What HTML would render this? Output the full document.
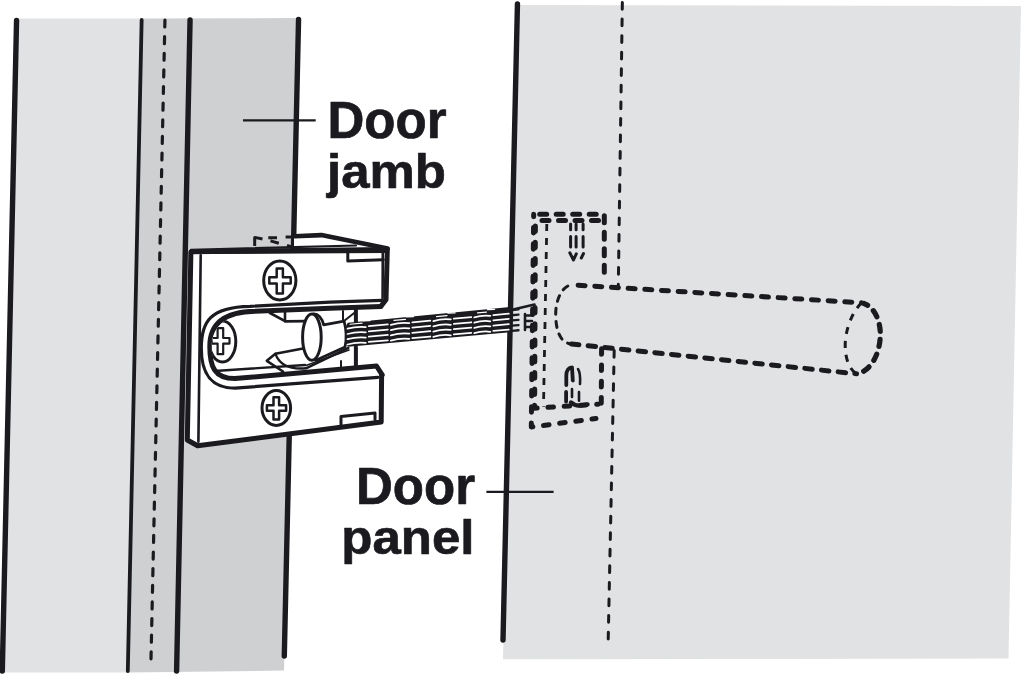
<!DOCTYPE html>
<html><head><meta charset="utf-8"><style>
html,body{margin:0;padding:0;background:#fff;width:1025px;height:675px;overflow:hidden}
svg{display:block}
text{font-family:"Liberation Sans",sans-serif;font-weight:bold;fill:#1b1a1f;stroke:#1b1a1f;stroke-width:0.7}
</style></head><body>
<svg width="1025" height="675" viewBox="0 0 1025 675">
<g stroke-linecap="round" stroke-linejoin="round">
<!-- fills -->
<polygon points="16.6,18.5 141.7,18.5 127.8,672.5 2.3,672.5" fill="#e1e2e4"/>
<polygon points="141.7,18.5 298.6,18 284,670.6 127.8,672.5" fill="#cfd0d2"/>
<polygon points="517.5,5 1021,6 1008.5,658.5 503,659.3" fill="#e1e2e4"/>

<!-- left lines -->
<g stroke="#1b1a1f" fill="none">
<line x1="16.55" y1="20.5" x2="2.3" y2="671" stroke-width="5.4"/>
<line x1="141.65" y1="20" x2="127.8" y2="671" stroke-width="3.8"/>
<line x1="164.94" y1="20" x2="151" y2="659" stroke-width="3.2" stroke-dasharray="7 9.63" stroke-linecap="round"/>
<line x1="190.05" y1="20" x2="176.6" y2="671" stroke-width="5.4"/>
<line x1="298.55" y1="19.5" x2="284.3" y2="656" stroke-width="5.4"/>
<line x1="517.45" y1="4" x2="503" y2="640" stroke-width="5.4"/>
<line x1="622.35" y1="2.5" x2="618.3" y2="286" stroke-width="3" stroke-dasharray="6.75 9.82" stroke-linecap="round"/>
<line x1="614.2" y1="350.5" x2="608.2" y2="640" stroke-width="3" stroke-dasharray="6.75 9.82" stroke-linecap="round"/>
<!-- leaders -->
<line x1="243" y1="120.3" x2="315.7" y2="120.3" stroke-width="2.2" stroke-linecap="butt"/>
<line x1="486.4" y1="491.8" x2="553.6" y2="491.8" stroke-width="2.2" stroke-linecap="butt"/>
</g>

<!-- text -->
<text x="327.5" y="137.8" font-size="51">Door</text>
<text x="327" y="187.8" font-size="51" transform="translate(0,187.8) scale(1,0.93) translate(0,-187.8)">jamb</text>
<text x="475" y="503.5" font-size="51" text-anchor="end">Door</text>
<text x="474.5" y="554.1" font-size="51" text-anchor="end" transform="translate(0,554.1) scale(1,0.93) translate(0,-554.1)">panel</text>

<!-- BRACKET -->
<g stroke="#1b1a1f" fill="none">
  <!-- top face -->
  <polygon points="294,236.5 320.4,235.1 388.3,248.4 294,250" fill="#fff" stroke="none"/>
  <path d="M294.5,236.2 L321.4,235.1 L387.7,248.6" stroke-width="4.6"/>
  <!-- dashed hidden -->
  <path d="M254.7,246 V237.4 L262.5,239 M268.3,237.7 H277 M270.5,240.9 L278.8,243.3 M285.6,236.9 H291.5 M287,245.3 L291.5,246.8" stroke-width="3" stroke-linecap="butt"/>
  <!-- body fill -->
  <path d="M190.9,251.5 L388.3,248.4 L386,299.7 L380.8,306.4 L382.2,374.9 L381.8,422 L197.6,445.8 L187.3,440 Z" fill="#fff" stroke="none"/>
  <!-- U back (thick) -->
  <path d="M380.8,306.4 L330,308.2 L255,311.3 C222,311.8 209.8,326 209.8,346.5 C209.8,366 214,378.6 235,378.6 L376.5,366 L382.2,374.9" stroke-width="5"/>
  <path d="M215,371 L305,365" stroke-width="2.4"/>
  <!-- outer outline -->
  <path d="M380.8,306.4 L386,299.7 L387.3,249.5 L190.9,251.8 L187.3,440 L197.6,445.8 L381.2,422 L381.6,374.9" stroke-width="5"/>
  <path d="M191,249.8 L356,245.5" stroke-width="2.2"/>
  <path d="M191,252 L387,250.9" stroke-width="4.2"/>
  <!-- front face edges -->
  <path d="M382,300.4 L330,302.2 L250,306.3 C210,307 201.3,322 201.3,348 C201.3,370 208,388.1 235,388.1 L377.8,377.4" stroke-width="3.2"/>
  <path d="M200.7,255.3 L198.4,441.8" stroke-width="2.6"/>
  <path d="M382.8,251 L382.6,298" stroke-width="2.6"/>
  <!-- notches -->
  <path d="M347.8,252.5 V261 L383.3,259.7" stroke-width="3"/>
  <path d="M341,425.5 V416.5 L375,413 V419.5" stroke-width="3"/>
  <!-- screws -->
  <ellipse cx="279.8" cy="280.4" rx="16.1" ry="19.5" fill="#fff" stroke-width="3"/>
  <path d="M276.7,268.4 h6.2 v8.9 h7.8 v6.2 h-7.8 v9.9 h-6.2 v-9.9 h-7.4 v-6.2 h7.4 z" fill="#fff" stroke-width="2.5"/>
  <ellipse cx="276.3" cy="408" rx="14.3" ry="17.4" fill="#fff" stroke-width="3"/>
  <path d="M273.5,397.2 h5.6 v8 h7 v5.6 h-7 v8.8 h-5.6 v-8.8 h-6.6 v-5.6 h6.6 z" fill="#fff" stroke-width="2.5"/>
  <!-- slot screw -->
  <clipPath id="slot"><path d="M380,309 L255,313.3 C224,313.8 211.8,328 211.8,346.5 C211.8,365 216,376.6 235,376.6 L380,364 Z"/></clipPath>
  <g clip-path="url(#slot)">
    <ellipse cx="222.5" cy="341.5" rx="13.3" ry="20.5" fill="#fff" stroke-width="3"/>
    <path d="M217.6,328.2 h5.6 v9.8 h6.3 v5.6 h-6.3 v10.6 h-5.6 v-10.6 h-6 v-5.6 h6 z" fill="#fff" stroke-width="2.2"/>
  </g>
  <!-- upper flap -->
  <path d="M270,313 L285.5,321.4 L306,321.1 M285,311.5 V321.4" stroke-width="2.6"/>
  <!-- lower flap -->
  <path d="M303,348.5 L275.4,353.8 L266.8,360.8 L283,371.5" stroke-width="2.6"/>
  <path d="M275.4,353.8 C280,366 292,369.5 306,368.3 L348.4,347.9" stroke-width="2.4"/>
  <path d="M306,365.4 L349,350" stroke-width="1.6"/>
  <!-- pivot barrel -->
  <path d="M313.5,313.8 C318,313.5 322,318 323.7,324.9 L344.1,321.1 C346.5,330 346.5,340 345,347 L316,360.2" fill="#fff" stroke-width="2.8"/>
  <ellipse cx="311.9" cy="337.2" rx="9.3" ry="23.1" fill="#fff" stroke-width="3"/>
  <!-- posts -->
  <path d="M355.9,309 V322 M355.9,347 V367" stroke-width="4"/>
  <path d="M343,311 V321 M341,361 V367.5 M344,321 L354.8,312.5" stroke-width="2"/>
</g>
<!-- chain -->
<g transform="matrix(1,-0.089,0,1,0,0)">
  <path d="M348,353.8 L510,352.3 L510,377.6 L348,377.6 C344,374.6 344,356.8 348,353.8 Z" fill="#1b1a1f"/>
  <path d="M347.5,359.6 Q356.6,357.8 365.8,359.6 M347.5,364.9 Q356.6,363.1 365.8,364.9 M347.5,370.1 Q356.6,368.3 365.8,370.1 M347.5,375.4 Q356.6,373.6 365.8,375.4 M368.8,359.0 L387.8,359.0 M368.8,364.2 L387.8,364.2 M368.8,369.5 L387.8,369.5 M368.8,374.8 L387.8,374.8 M390.8,359.6 Q400.1,357.8 409.3,359.6 M390.8,364.9 Q400.1,363.1 409.3,364.9 M390.8,370.1 Q400.1,368.3 409.3,370.1 M390.8,375.4 Q400.1,373.6 409.3,375.4 M412.3,359.0 L430.3,359.0 M412.3,364.2 L430.3,364.2 M412.3,369.5 L430.3,369.5 M412.3,374.8 L430.3,374.8 M433.3,359.6 Q442.1,357.8 450.8,359.6 M433.3,364.9 Q442.1,363.1 450.8,364.9 M433.3,370.1 Q442.1,368.3 450.8,370.1 M433.3,375.4 Q442.1,373.6 450.8,375.4 M453.8,359.0 L471.3,359.0 M453.8,364.2 L471.3,364.2 M453.8,369.5 L471.3,369.5 M453.8,374.8 L471.3,374.8 M474.3,359.6 Q482.3,357.8 490.3,359.6 M474.3,364.9 Q482.3,363.1 490.3,364.9 M474.3,370.1 Q482.3,368.3 490.3,370.1 M474.3,375.4 Q482.3,373.6 490.3,375.4 M493.3,359.0 L508.8,359.0 M493.3,364.2 L508.8,364.2 M493.3,369.5 L508.8,369.5 M493.3,374.8 L508.8,374.8" stroke="#fff" stroke-width="1.75" fill="none" stroke-linecap="round"/>
  <path d="M350.0,355.4 L362.0,355.4 M394.0,355.4 L405.5,355.4 M436.5,355.4 L447.0,355.4 M477.5,355.4 L486.5,355.4" stroke="#fff" stroke-width="1.2" fill="none" stroke-linecap="round"/>
  <path d="M363.0,353.0 L370.0,353.4 M406.5,353.0 L413.5,353.4 M448.0,353.0 L455.0,353.4 M487.5,353.0 L494.5,353.4" stroke="#fff" stroke-width="1.4" fill="none"/>
  <path d="M512,355.6 H518.5 M512,360.8 H518.5 M512,366.0 H518.5 M512,371.2 H518.5 M512,376.40000000000003 H518.5" stroke="#1b1a1f" stroke-width="2.3" fill="none"/>
</g>
<path d="M512,309.8 L534.5,304.6 M525,314 V330 M525,315.5 H533 M525,321 H532 M525,327 H531" stroke="#1b1a1f" stroke-width="2.6" fill="none" stroke-linecap="round"/>
<!-- panel plate (hidden, dashed) -->
<g stroke="#1b1a1f" fill="none" stroke-linecap="round">
  <g stroke-width="5" stroke-dasharray="5.6 10.7">
    <path d="M533.7,214.3 H604.3 V280" stroke-dasharray="7 9.5" stroke-dashoffset="-6"/>
    <path d="M534,220.4 H604.6" stroke-dasharray="7 9.5" stroke-dashoffset="-8"/>
    <path d="M533.7,214.3 L531.3,427 L596,418.5" stroke-dashoffset="3.2"/>
    <path d="M535.4,222 L534.6,408.2 L598.1,404.2" stroke-dashoffset="12.4"/>
    <path d="M601.6,348.7 L601.2,412"/>
  </g>
  <g stroke-width="2.8" stroke-dasharray="7 7" stroke-linecap="butt">
    <path d="M546.8,224 L543.5,406.6"/>
  </g>
  <g stroke-width="3" stroke-linecap="round" fill="none">
    <path d="M570.6,224 V229.8 M576.1,224 V229.8 M583.1,224 V229.8 M570.6,236.5 V246.9 M576.1,236.5 V246.9 M583.1,236.5 V246.9"/>
    <path d="M569.8,252.8 L573.5,260 L576.3,253.8 M583.5,253.5 L581.3,258"/>
    <path d="M566.3,385 V376 C566.3,370 569,367.4 572,367.4 L572.8,380.5 M566.1,392 V401.5" stroke-width="3.8"/>
    <path d="M578,369 C580,372 580.5,376 580,384 M572,389 V397 M579,392 V400.7" stroke-width="2.6"/>
    <path d="M571,402.4 C574,405 577,406 580,405.6 L587.6,404.4" stroke-width="4.2"/>
  </g>
  <!-- cylinder -->
  <path d="M571.6,284.8 L861.5,302.8" stroke-width="5" stroke-dasharray="7 9.7" stroke-dashoffset="10.16"/>
  <path d="M569.9,343.8 L856.6,373.8" stroke-width="5" stroke-dasharray="7.5 9.26" stroke-dashoffset="15.22"/>
  <path d="M864,303.5 C874,307 880.3,320 880.3,334 C880.3,352 872,371 856.6,374" stroke-width="5.2" stroke-dasharray="7 8" stroke-dashoffset="3"/>
  <path d="M571.6,284.8 C562,286 555.7,300 555.7,314 C555.7,330 560,342 569.9,343.8" stroke-width="3" stroke-dasharray="6 7" stroke-dashoffset="-4"/>
  <path d="M861.5,302.8 C852,312 845.2,330 845.2,345.2 C845.2,360 850,370 856.6,373.8" stroke-width="3" stroke-dasharray="7 7" stroke-linecap="butt"/>
</g>
</g>
</g>
</svg>
</body></html>
